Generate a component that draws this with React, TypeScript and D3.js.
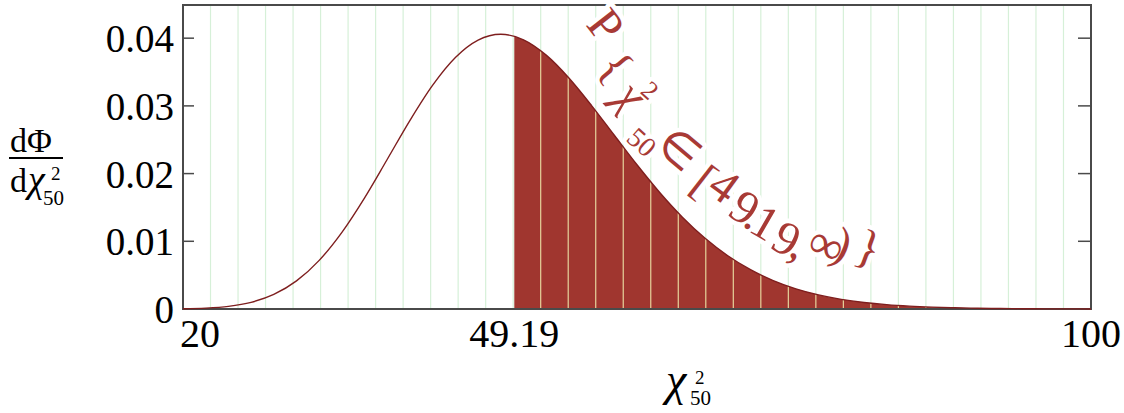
import * as d3 from "d3";

// chi-square (50 d.o.f.) density, every 2 units from 20 to 100
const chiX = [
  20, 22, 24, 26, 28, 30, 32, 34, 36, 38, 40, 42, 44, 46, 48, 50, 52, 54, 56, 58,
  60, 62, 64, 66, 68, 70, 72, 74, 76, 78, 80, 82, 84, 86, 88, 90, 92, 94, 96, 98, 100,
];
const density = [
  0.0000366, 0.000133, 0.000394, 0.000989, 0.002154, 0.00415, 0.007185, 0.011324,
  0.016424, 0.02212, 0.027867, 0.033064, 0.03715, 0.039716, 0.040575, 0.03976,
  0.037493, 0.034119, 0.030046, 0.025661, 0.021297, 0.01721, 0.013565, 0.010443,
  0.007866, 0.0058028, 0.004197, 0.0029804, 0.0020789, 0.0014267, 0.00096363,
  0.00064118, 0.00042065, 0.00027218, 0.00017387, 0.00010967, 0.00006838,
  0.00004215, 0.0000257, 0.00001551, 0.00000926,
];

// critical value and its density
const critical = 49.19;
const criticalDensity = 0.040284;

const yTicks = [0, 0.01, 0.02, 0.03, 0.04];
const yTickLabels = ["0", "0.01", "0.02", "0.03", "0.04"];
const xTicks = [20, 49.19, 100];
const xTickLabels = ["20", "49.19", "100"];

// annotation P{χ²₅₀ ∈ [49.19, ∞)} laid glyph by glyph along the tail (data units)
const annotGlyphs = ["P", "{", "χ", "2", "50", "∈", "[", "4", "9", ".", "1", "9", ",", "∞", ")", "}"];
const annotX = [57.3, 58.2, 59.56, 61.15, 60.44, 63.79, 65.99, 67.75, 69.55, 70.42, 71.32, 73.22, 74.36, 76.74, 78.15, 80.44];
const annotY = [0.04195, 0.0359, 0.03161, 0.03235, 0.02467, 0.02363, 0.01905, 0.01831, 0.01507, 0.01403, 0.01285, 0.01049, 0.00975, 0.0096, 0.0096, 0.00916];
const annotRot = [52, 50, 46, 42, 42, 40, 38, 36, 34, 32, 30, 28, 26, 24, 22, 20];
const annotSize = [48, 48, 48, 26, 28, 46, 48, 48, 48, 48, 48, 48, 48, 48, 48, 48];

const W = 1124;
const H = 413;
const margin = { top: 5, right: 33, bottom: 104, left: 183 };
const serif = "'Liberation Serif', 'Times New Roman', serif";

const App = () => {
  const x = d3.scaleLinear().domain([20, 100]).range([margin.left, W - margin.right]);
  const y = d3.scaleLinear().domain([0, 0.0449]).range([H - margin.bottom, margin.top]);

  const pts = chiX.map((v, i) => [v, density[i]]);
  const line = d3.line().x(d => x(d[0])).y(d => y(d[1])).curve(d3.curveMonotoneX);
  const curvePath = line(pts);

  // shaded tail
  const tail = [[critical, criticalDensity], ...pts.filter(d => d[0] > critical)];
  const area = d3.area()
    .x(d => x(d[0]))
    .y0(y(0))
    .y1(d => y(d[1]))
    .curve(d3.curveMonotoneX);
  const tailPath = area(tail);

  //вертикальная сетка: 33 равные колонки
  const grid = d3.range(1, 33).map(k => 20 + (k * 80) / 33);

  const x0 = x(20), x1 = x(100), yb = y(0), yt = margin.top;
  const axisColor = "#4a4a4a";

  return (
    <svg
      width={W}
      height={H}
      style={{ position: "absolute", left: 0, top: 0, background: "#fff" }}
      fontFamily={serif}
    >
      <defs>
        <clipPath id="tailClip">
          <path d={tailPath} />
        </clipPath>
      </defs>

      {grid.map((g, i) => (
        <line key={i} x1={x(g)} x2={x(g)} y1={yt} y2={yb} stroke="#d6f0d8" strokeWidth={1.2} />
      ))}

      <path d={tailPath} fill="#a0362f" />
      <g clipPath="url(#tailClip)">
        {grid.map((g, i) => (
          <line key={i} x1={x(g)} x2={x(g)} y1={yt} y2={yb} stroke="#e6d49c" strokeWidth={1.2} />
        ))}
      </g>

      {/* рамка */}
      <rect x={x0} y={yt} width={x1 - x0} height={yb - yt} fill="none" stroke={axisColor} strokeWidth={2} />

      <path d={curvePath} fill="none" stroke="#7e1e1e" strokeWidth={1.4} />

      {yTicks.slice(1).map((t, i) => (
        <g key={i}>
          <line x1={x0} x2={x0 + 11} y1={y(t)} y2={y(t)} stroke={axisColor} strokeWidth={1.5} />
          <line x1={x1 - 13} x2={x1} y1={y(t)} y2={y(t)} stroke={axisColor} strokeWidth={1.5} />
        </g>
      ))}

      {yTicks.map((t, i) => (
        <text key={i} x={x0 - 9} y={y(t) + 14} textAnchor="end" fontSize={39} fill="#000">
          {yTickLabels[i]}
        </text>
      ))}

      {xTicks.map((t, i) => (
        <text
          key={i}
          x={i === 0 ? x(t) - 3 : x(t)}
          y={347}
          textAnchor={i === 0 ? "start" : "middle"}
          fontSize={40}
          fill="#000"
        >
          {xTickLabels[i]}
        </text>
      ))}

      {/* подпись оси y */}
      <text x={10} y={152} fontSize={34} fill="#000">dΦ</text>
      <line x1={9} x2={63} y1={158} y2={158} stroke="#000" strokeWidth={2} />
      <text x={10} y={192} fontSize={34} fill="#000">d</text>
      <text x={28} y={192} fontSize={38} fontStyle="italic" fill="#000">χ</text>
      <text x={51} y={180} fontSize={19} fill="#000">2</text>
      <text x={43} y={205} fontSize={21} fill="#000">50</text>

      {/* подпись оси x */}
      <text x={666} y={395} fontSize={46} fontStyle="italic" fill="#000">χ</text>
      <text x={695} y={384} fontSize={19} fill="#000">2</text>
      <text x={690} y={405} fontSize={21} fill="#000">50</text>

      {/* надпись вдоль хвоста: белый ореол, затем буквы */}
      {[true, false].map(halo => (
        <g key={halo ? "halo" : "text"}>
          {annotGlyphs.map((ch, i) => (
            <text
              key={i}
              transform={`translate(${x(annotX[i])},${y(annotY[i])}) rotate(${annotRot[i]})`}
              textAnchor="middle"
              dy="0.35em"
              fontSize={annotSize[i]}
              fontStyle={ch === "χ" ? "italic" : "normal"}
              fill={halo ? "#fff" : "#a83a35"}
              stroke={halo ? "#fff" : "none"}
              strokeWidth={halo ? 9 : 0}
              strokeLinejoin="round"
            >
              {ch}
            </text>
          ))}
        </g>
      ))}
    </svg>
  );
};

export default App;
